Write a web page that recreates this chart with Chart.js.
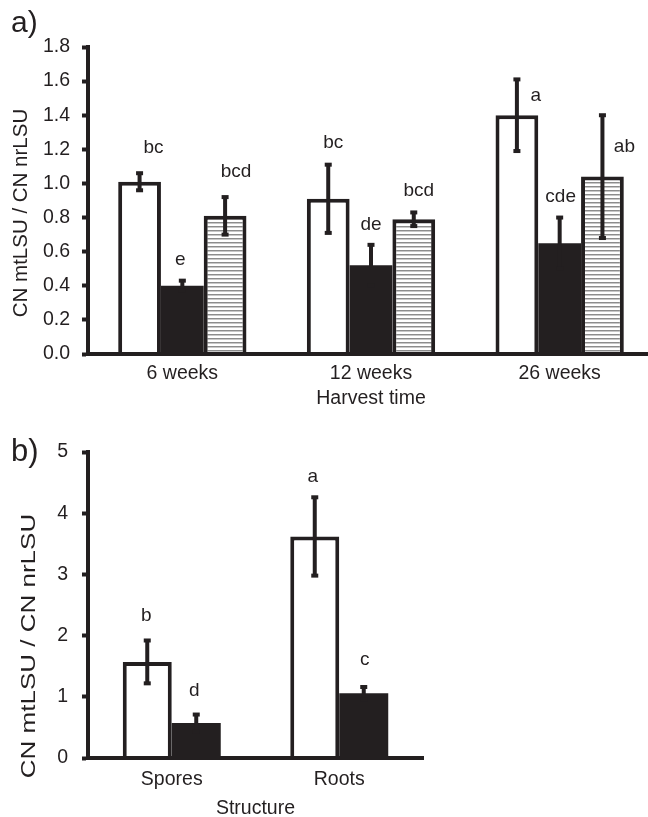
<!DOCTYPE html>
<html><head><meta charset="utf-8">
<script src="https://cdn.jsdelivr.net/npm/chart.js@4.4.1/dist/chart.umd.min.js"></script>
<style>
html,body{margin:0;padding:0;background:#fff;overflow:hidden;width:648px;height:817px;}
#wa{position:absolute;left:0;top:0;width:660px;height:410px;}
#wb{position:absolute;left:0;top:410px;width:648px;height:420px;}
.pl{position:absolute;left:11px;font-family:"Liberation Sans",Arial,sans-serif;color:#231f20;line-height:30px;}
</style></head><body>
<div id="wa"><canvas id="ca"></canvas></div>
<div id="wb"><canvas id="cb"></canvas></div>
<div class="pl" style="top:7px;font-size:30px;">a)</div>
<div class="pl" style="top:436px;font-size:31px;">b)</div>
<script>
// ---------- DATA ----------
const harvestTimes = ['6 weeks', '12 weeks', '26 weeks'];
const whiteA = [1.01, 0.91, 1.40];
const whiteAErr = [0.05, 0.20, 0.21];
const blackA = [0.40, 0.52, 0.65];
const blackAErr = [0.03, 0.12, 0.15];
const hatchA = [0.81, 0.79, 1.04];
const hatchAErr = [0.11, 0.04, 0.36];
const whiteALetters = ['bc', 'bc', 'a'];
const blackALetters = ['e', 'de', 'cde'];
const hatchALetters = ['bcd', 'bcd', 'ab'];
const yMaxA = 1.8, yStepA = 0.2;

const structures = ['Spores', 'Roots'];
const whiteB = [1.57, 3.62];
const whiteBErr = [0.35, 0.64];
const blackB = [0.57, 1.06];
const blackBErr = [0.14, 0.10];
const whiteBLetters = ['b', 'a'];
const blackBLetters = ['d', 'c'];
const yMaxB = 5, yStepB = 1;

const yTitle = 'CN mtLSU / CN nrLSU';
const xTitleA = 'Harvest time';
const xTitleB = 'Structure';

// ---------- STYLE ----------
const INK = '#231f20';
const FONT = '"Liberation Sans", Arial, sans-serif';
// letter label offsets [dx, dy] from error-bar top (pixels)
const offWhiteA = [[14, -25], [5, -22], [19, 16]];
const offBlackA = [[-2, -21], [0, -20], [1, -21]];
const offHatchA = [[11, -25], [5, -22], [22, 32]];
const offWhiteB = [[-1, -25], [-2, -21]];
const offBlackB = [[-2, -24], [1, -27]];

function hatchPattern() {
  const c = document.createElement('canvas');
  c.width = 8; c.height = 4;
  const g = c.getContext('2d');
  g.fillStyle = '#ffffff'; g.fillRect(0, 0, 8, 4);
  g.fillStyle = '#8c8c8c'; g.fillRect(0, 2, 8, 1);
  g.fillStyle = '#c8c8c8'; g.fillRect(0, 3, 8, 1);
  return g.createPattern(c, 'repeat');
}

const errorPlugin = {
  id: 'errs',
  afterDatasetsDraw(chart) {
    const ctx = chart.ctx, ys = chart.scales.y;
    chart.data.datasets.forEach((ds, i) => {
      const meta = chart.getDatasetMeta(i);
      meta.data.forEach((bar, j) => {
        const v = ds.data[j], e = ds.errors[j];
        const yT = ys.getPixelForValue(v + e), yB = ys.getPixelForValue(v - e);
        ctx.save();
        ctx.fillStyle = INK;
        ctx.fillRect(bar.x - 2, yT, 4, yB - yT);
        ctx.fillRect(bar.x - 3.5, yT - 2, 7, 4);
        ctx.fillRect(bar.x - 3.5, yB - 2, 7, 4);
        ctx.font = '19px ' + FONT;
        ctx.textAlign = 'center';
        ctx.textBaseline = 'middle';
        const o = ds.letterOffsets[j];
        ctx.fillText(ds.letters[j], bar.x + o[0], yT + o[1]);
        ctx.restore();
      });
    });
  }
};

const yTitlePlugin = {
  id: 'ytitle',
  afterDraw(chart, args, opts) {
    const ctx = chart.ctx;
    ctx.save();
    ctx.translate(opts.x, opts.y);
    ctx.rotate(-Math.PI / 2);
    ctx.scale(1, opts.squeeze || 1);
    ctx.font = opts.size + 'px ' + FONT;
    ctx.fillStyle = INK;
    ctx.textAlign = 'center';
    ctx.textBaseline = 'middle';
    ctx.fillText(opts.text, 0, 0);
    ctx.restore();
  }
};

function makeChart(id, cfg) {
  const datasets = cfg.series.map(s => ({
    data: s.data, errors: s.err, letters: s.letters, letterOffsets: s.off,
    backgroundColor: s.bg, borderColor: INK, borderWidth: s.bw,
    borderSkipped: 'start', barPercentage: 1, categoryPercentage: cfg.catPct
  }));
  return new Chart(document.getElementById(id), {
    type: 'bar',
    data: { labels: cfg.labels, datasets },
    plugins: [errorPlugin, yTitlePlugin],
    options: {
      responsive: true, maintainAspectRatio: false, animation: false,
      layout: { padding: { left: 0, top: cfg.top, right: cfg.right, bottom: 0 } },
      plugins: {
        legend: { display: false }, tooltip: { enabled: false },
        ytitle: cfg.ytitle
      },
      scales: {
        x: {
          afterFit(s) { s.height = cfg.xh; },
          grid: { display: false },
          border: { display: true, color: INK, width: 4, z: 2 },
          ticks: { color: INK, font: { family: FONT, size: 19.5 }, padding: cfg.xpad, maxRotation: 0 },
          title: { display: true, text: cfg.xtitle, color: INK, font: { family: FONT, size: 19.5 }, padding: { top: 0, bottom: cfg.xtpad } }
        },
        y: {
          min: 0, max: cfg.ymax,
          afterFit(s) { s.width = 88; },
          grid: { display: true, drawOnChartArea: false, drawTicks: true, tickLength: 6, tickWidth: 4, tickColor: INK },
          border: { display: true, color: INK, width: 4, z: 2 },
          ticks: { stepSize: cfg.ystep, color: INK, font: { family: FONT, size: 19.5 }, padding: cfg.ypad,
            callback: cfg.fmt }
        }
      }
    }
  });
}

makeChart('ca', {
  labels: harvestTimes, catPct: 0.68, top: 47, right: 6, xh: 56, xpad: 0, xtpad: 0, ypad: 12, ymax: yMaxA, ystep: yStepA,
  xtitle: xTitleA, fmt: v => Number(v).toFixed(1),
  ytitle: { text: yTitle, x: 21, y: 213, size: 20.5 },
  series: [
    { data: whiteA, err: whiteAErr, letters: whiteALetters, off: offWhiteA, bg: '#ffffff', bw: 4 },
    { data: blackA, err: blackAErr, letters: blackALetters, off: offBlackA, bg: INK, bw: 0 },
    { data: hatchA, err: hatchAErr, letters: hatchALetters, off: offHatchA, bg: hatchPattern(), bw: 4 }
  ]
});

makeChart('cb', {
  labels: structures, catPct: 0.585, top: 42, right: 225, xh: 72, xpad: 2, xtpad: 10, ypad: 14, ymax: yMaxB, ystep: yStepB,
  xtitle: xTitleB, fmt: v => String(v),
  ytitle: { text: yTitle, x: 29, y: 236, size: 26, squeeze: 0.8 },
  series: [
    { data: whiteB, err: whiteBErr, letters: whiteBLetters, off: offWhiteB, bg: '#ffffff', bw: 4 },
    { data: blackB, err: blackBErr, letters: blackBLetters, off: offBlackB, bg: INK, bw: 0 }
  ]
});
</script>
</body></html>
